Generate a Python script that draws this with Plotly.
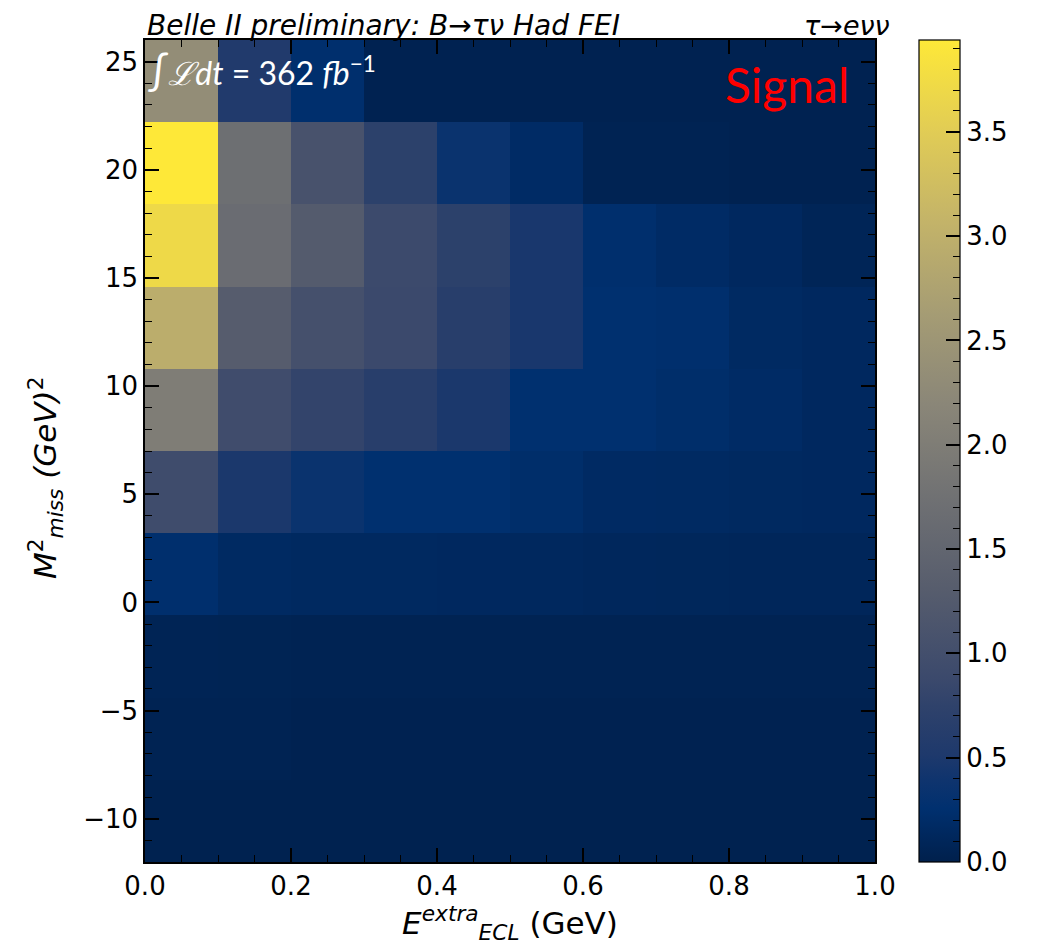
import plotly.graph_objects as go

# Bin edges
x_edges = [0.0, 0.1, 0.2, 0.3, 0.4, 0.5, 0.6, 0.7, 0.8, 0.9, 1.0]
y_edges = [-12.0, -8.2, -4.4, -0.6, 3.2, 7.0, 10.8, 14.6, 18.4, 22.2, 26.0]

# Bin contents, rows from bottom (y=-12) to top (y=26), columns x=0..1
z_rows = [
    [0.03, 0.03, 0.03, 0.03, 0.03, 0.03, 0.03, 0.03, 0.03, 0.03],
    [0.05, 0.05, 0.04, 0.04, 0.04, 0.04, 0.04, 0.04, 0.04, 0.04],
    [0.07, 0.06, 0.05, 0.05, 0.05, 0.05, 0.05, 0.05, 0.05, 0.05],
    [0.24, 0.16, 0.15, 0.15, 0.14, 0.13, 0.12, 0.11, 0.10, 0.10],
    [0.93, 0.49, 0.35, 0.26, 0.26, 0.22, 0.17, 0.16, 0.15, 0.14],
    [2.00, 0.95, 0.79, 0.65, 0.49, 0.26, 0.26, 0.22, 0.18, 0.14],
    [2.95, 1.30, 1.03, 0.87, 0.65, 0.47, 0.26, 0.24, 0.16, 0.14],
    [3.70, 1.65, 1.26, 0.89, 0.71, 0.47, 0.24, 0.18, 0.14, 0.08],
    [3.94, 1.70, 1.07, 0.71, 0.35, 0.18, 0.05, 0.05, 0.04, 0.04],
    [2.33, 0.55, 0.24, 0.04, 0.04, 0.04, 0.04, 0.04, 0.04, 0.04],
]
z_max = 3.94

x_ticks = [0.0, 0.2, 0.4, 0.6, 0.8, 1.0]
y_ticks = [-10, -5, 0, 5, 10, 15, 20, 25]
cb_ticks = [0.0, 0.5, 1.0, 1.5, 2.0, 2.5, 3.0, 3.5]
cb_minor_ticks = [round(0.1 * i, 1) for i in range(40)]

# matplotlib-like cividis
cividis = [
    [0.000, "#00204c"], [0.030, "#00275c"], [0.065, "#00306f"],
    [0.100, "#0f346e"], [0.130, "#1e396c"], [0.190, "#2f426b"],
    [0.222, "#3b496c"], [0.333, "#575d6d"], [0.444, "#707173"],
    [0.556, "#8a8678"], [0.667, "#a59c74"], [0.778, "#c3b369"],
    [0.889, "#e1cc55"], [1.000, "#fee838"],
]

OFF = 8  # page body margin
W, H = 1040, 950
L = 145 - OFF
T = 40 - OFF
plot_w, plot_h = 730, 822
cb_l, cb_r = 919 - OFF, 960 - OFF
R = W - cb_r
B = H - T - plot_h
pw = cb_r - L
xdom_end = plot_w / pw
cb_left = (cb_l - L) / pw

def px_x(x):
    return (x - OFF - L) / pw

def px_y(y):
    return 1 - (y - OFF - T) / plot_h

tickfont = dict(family="DejaVu Sans", size=26, color="black")

fig = go.Figure()
fig.add_trace(go.Heatmap(
    x=x_edges, y=y_edges, z=z_rows,
    colorscale=cividis, zmin=0, zmax=z_max,
    colorbar=dict(
        x=cb_left, xanchor="left", xpad=0, ypad=0,
        y=0.5, yanchor="middle", len=1.0, lenmode="fraction",
        thickness=cb_r - cb_l, thicknessmode="pixels",
        outlinewidth=1.2, outlinecolor="black",
        tickvals=cb_ticks, ticktext=[f"{v:.1f}" for v in cb_ticks],
        ticks="inside", ticklen=14, tickwidth=1.5, tickcolor="black",
        tickfont=tickfont,
    ),
    showscale=True, hoverinfo="skip",
))
# transparent overlay only to draw the colorbar's minor ticks
fig.add_trace(go.Heatmap(
    x=x_edges, y=y_edges, z=z_rows,
    colorscale=[[0, "rgba(0,0,0,0)"], [1, "rgba(0,0,0,0)"]],
    zmin=0, zmax=z_max,
    colorbar=dict(
        x=cb_left, xanchor="left", xpad=0, ypad=0,
        y=0.5, yanchor="middle", len=1.0, lenmode="fraction",
        thickness=cb_r - cb_l, thicknessmode="pixels",
        outlinewidth=0,
        tickvals=cb_minor_ticks, showticklabels=False,
        ticks="inside", ticklen=7, tickwidth=1.1, tickcolor="black",
    ),
    showscale=True, hoverinfo="skip",
))

axis_common = dict(
    showline=True, linecolor="black", linewidth=1.5, mirror="allticks",
    ticks="inside", tickcolor="black", tickwidth=1.5, ticklen=14,
    showgrid=False, zeroline=False, tickfont=tickfont,
)

fig.update_layout(
    width=W, height=H,
    margin=dict(l=L, r=R, t=T, b=B, pad=0),
    paper_bgcolor="white", plot_bgcolor="white",
    xaxis=dict(
        domain=[0, xdom_end], range=[0, 1], tickvals=x_ticks,
        ticktext=[f"{v:.1f}" for v in x_ticks],
        minor=dict(dtick=0.05, tick0=0, ticks="inside", ticklen=7,
                   tickcolor="black", tickwidth=1.1, showgrid=False),
        title=dict(text="<i>E</i><sup><i>extra</i></sup><sub><i>ECL</i></sub> (GeV)",
                   font=dict(family="DejaVu Sans", size=31, color="black"), standoff=4),
        **axis_common,
    ),
    yaxis=dict(
        range=[-12, 26], tickvals=y_ticks,
        ticktext=[("\u2212" + str(abs(v))) if v < 0 else str(v) for v in y_ticks],
        minor=dict(dtick=1, tick0=0, ticks="inside", ticklen=7,
                   tickcolor="black", tickwidth=1.1, showgrid=False),
        **axis_common,
    ),
    annotations=[
        dict(text="<i>M</i><sup>2</sup><sub><i>miss</i></sub> <i>(GeV)</i><sup>2</sup>",
             x=px_x(45), y=px_y(478), xref="paper", yref="paper",
             xanchor="center", yanchor="middle", textangle=-90, showarrow=False,
             font=dict(family="DejaVu Sans", size=31, color="black")),
        dict(text="<i>Belle II preliminary: B\u2192\u03c4\u03bd Had FEI</i>",
             x=px_x(145), y=px_y(26), xref="paper", yref="paper",
             xanchor="left", yanchor="middle", showarrow=False,
             font=dict(family="DejaVu Sans", size=28, color="black")),
        dict(text="<i>\u03c4\u2192e\u03bd\u03bd</i>",
             x=px_x(892), y=px_y(26), xref="paper", yref="paper",
             xanchor="right", yanchor="middle", showarrow=False,
             font=dict(family="DejaVu Sans", size=27, color="black")),
        dict(text="<span style='font-size:40px'>\u222b</span><i>\u2112dt</i> = 362 <i>fb</i><sup>\u22121</sup>",
             x=px_x(146), y=px_y(70), xref="paper", yref="paper",
             xanchor="left", yanchor="middle", showarrow=False,
             font=dict(family="Lato", size=32, color="white")),
        dict(text="Signal",
             x=px_x(787), y=px_y(84), xref="paper", yref="paper",
             xanchor="center", yanchor="middle", showarrow=False,
             font=dict(family="Lato", size=48, color="red")),
    ],
)

fig.write_html("out.html")
